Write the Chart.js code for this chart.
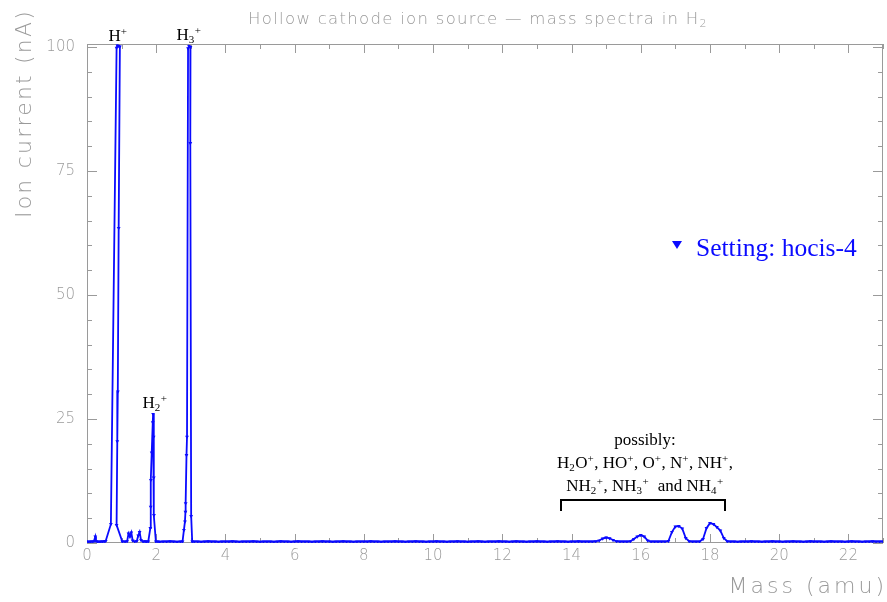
<!DOCTYPE html>
<html>
<head>
<meta charset="utf-8">
<script src="https://cdn.jsdelivr.net/npm/chart.js@4.4.1/dist/chart.umd.min.js"></script>
<style>
html,body{margin:0;padding:0;background:#fff;}
canvas{display:block;}
</style>
</head>
<body>
<canvas id="c" width="887" height="602"></canvas>
<script>
// ---- data (mass in amu, ion current in nA) ----
const masses = [
  0.00,0.05,0.10,0.15,0.20,0.24,0.26,0.30,0.35,0.40,0.45,0.50,0.54,
  0.69,0.855,0.88,0.915,0.95,0.915,0.89,0.875,0.855,1.02,
  1.10,1.16,1.20,1.24,1.28,1.32,1.38,1.44,1.48,1.52,1.56,1.62,1.68,1.72,
  1.77,1.83,1.84,1.845,1.87,1.90,1.91,1.925,1.93,1.935,1.99,
  2.05,2.10,2.20,2.30,2.40,2.50,2.60,2.70,
  2.76,2.80,2.83,2.845,2.85,2.875,2.89,2.92,2.95,2.99,2.985,3.01,3.04,
  3.1,3.2,3.3,3.4,3.5,3.6,3.7,3.8,3.9,4.0,
  4.1,4.2,4.3,4.4,4.5,4.6,4.7,4.8,4.9,5.0,
  5.1,5.2,5.3,5.4,5.5,5.6,5.7,5.8,5.9,6.0,
  6.1,6.2,6.3,6.4,6.5,6.6,6.7,6.8,6.9,7.0,
  7.1,7.2,7.3,7.4,7.5,7.6,7.7,7.8,7.9,8.0,
  8.1,8.2,8.3,8.4,8.5,8.6,8.7,8.8,8.9,9.0,
  9.1,9.2,9.3,9.4,9.5,9.6,9.7,9.8,9.9,10.0,
  10.1,10.2,10.3,10.4,10.5,10.6,10.7,10.8,10.9,11.0,
  11.1,11.2,11.3,11.4,11.5,11.6,11.7,11.8,11.9,12.0,
  12.1,12.2,12.3,12.4,12.5,12.6,12.7,12.8,12.9,13.0,
  13.1,13.2,13.3,13.4,13.5,13.6,13.7,13.8,13.9,14.0,
  14.1,14.2,14.3,14.4,14.5,14.6,14.7,14.8,14.9,15.0,
  15.1,15.2,15.3,15.4,15.5,15.6,15.7,15.8,15.9,16.0,
  16.1,16.2,16.3,16.4,16.5,16.6,16.7,16.8,16.9,17.0,
  17.1,17.2,17.3,17.4,17.5,17.6,17.7,17.8,17.9,18.0,
  18.1,18.2,18.3,18.4,18.5,18.6,18.7,18.8,18.9,19.0,
  19.1,19.2,19.3,19.4,19.5,19.6,19.7,19.8,19.9,20.0,
  20.1,20.2,20.3,20.4,20.5,20.6,20.7,20.8,20.9,21.0,
  21.1,21.2,21.3,21.4,21.5,21.6,21.7,21.8,21.9,22.0,
  22.1,22.2,22.3,22.4,22.5,22.6,22.7,22.8,22.9,23.0
];
const currents = [
  0.3,0.25,0.3,0.3,0.35,1.3,0.4,0.3,0.25,0.3,0.3,0.35,0.4,
  3.8,99.8,100.3,100.2,100.1,63.5,30.5,20.5,3.6,0.3,
  0.3,0.35,1.9,1.3,2.1,0.5,0.3,0.4,1.5,2.2,0.6,0.3,0.35,0.3,
  0.3,3.0,7.3,12.7,18.2,24.3,26.0,21.4,13.2,5.6,0.3,
  0.3,0.25,0.3,0.3,0.35,0.3,0.25,0.3,
  0.3,2.6,4.3,6.3,8.0,17.7,21.4,99.7,100.2,100.0,80.6,5.4,0.3,
  0.3,0.3,0.25,0.3,0.35,0.3,0.3,0.25,0.3,0.3,
  0.3,0.35,0.3,0.25,0.3,0.3,0.3,0.35,0.3,0.25,
  0.3,0.3,0.3,0.25,0.3,0.35,0.3,0.3,0.25,0.3,
  0.35,0.3,0.3,0.3,0.25,0.3,0.3,0.35,0.3,0.3,
  0.25,0.3,0.3,0.35,0.3,0.3,0.25,0.3,0.3,0.3,
  0.3,0.35,0.3,0.3,0.25,0.3,0.3,0.3,0.35,0.3,
  0.3,0.25,0.3,0.3,0.35,0.3,0.3,0.25,0.3,0.3,
  0.35,0.3,0.3,0.25,0.3,0.3,0.35,0.3,0.3,0.25,
  0.3,0.3,0.35,0.3,0.25,0.3,0.3,0.3,0.35,0.3,
  0.3,0.25,0.3,0.35,0.3,0.3,0.25,0.3,0.3,0.35,
  0.3,0.3,0.25,0.3,0.3,0.35,0.3,0.3,0.25,0.3,
  0.3,0.35,0.3,0.3,0.3,0.3,0.35,0.5,0.9,1.1,
  0.95,0.6,0.35,0.3,0.3,0.3,0.35,0.8,1.3,1.6,
  1.3,0.5,0.3,0.3,0.3,0.3,0.3,0.4,2.2,3.3,
  3.4,2.9,1.0,0.35,0.3,0.3,0.3,0.8,3.0,4.0,
  3.8,3.2,2.5,1.0,0.35,0.3,0.3,0.25,0.3,0.3,
  0.3,0.35,0.3,0.3,0.25,0.3,0.3,0.35,0.3,0.3,
  0.25,0.3,0.3,0.35,0.3,0.3,0.25,0.3,0.35,0.3,
  0.3,0.3,0.25,0.3,0.35,0.3,0.3,0.3,0.25,0.3,
  0.35,0.3,0.3,0.25,0.3,0.3,0.35,0.3,0.3,0.3
];
const xTickLabels = [0,2,4,6,8,10,12,14,16,18,20,22];
const yTickLabels = [0,25,50,75,100];
const seriesName = 'Setting: hocis-4';
const chartTitle = 'Hollow cathode ion source \u2014 mass spectra in H';
const xTitle = 'Mass (amu)';
const yTitle = 'Ion current (nA)';
const noteLines = [
  [{t:'possibly:'}],
  [{t:'H'},{sub:'2'},{t:'O'},{sup:'+'},{t:', HO'},{sup:'+'},{t:', O'},{sup:'+'},{t:', N'},{sup:'+'},{t:', NH'},{sup:'+'},{t:','}],
  [{t:'NH'},{sub:'2'},{sup:'+'},{t:', NH'},{sub:'3'},{sup:'+'},{t:'  and NH'},{sub:'4'},{sup:'+'}]
];

const BLUE = '#0a0aff';
const GRAY = '#9a9a9a';
const THINFAM = '"DejaVu Sans", sans-serif';
const SERIF = '"Liberation Serif", "Times New Roman", serif';

function runFont(ctx, r, size){
  ctx.font = (r.t !== undefined ? size : Math.round(size*0.62)) + 'px ' + SERIF;
  return r.t !== undefined ? r.t : (r.sub !== undefined ? r.sub : r.sup);
}
function runsWidth(ctx, runs, size){
  let w = 0;
  for (const r of runs){ const s = runFont(ctx, r, size); w += ctx.measureText(s).width + (r.t !== undefined ? 0 : 0.5); }
  return w;
}
function drawRuns(ctx, runs, cx, baseline, size, color){
  const total = runsWidth(ctx, runs, size);
  let x = cx - total/2;
  ctx.fillStyle = color; ctx.textAlign = 'left'; ctx.textBaseline = 'alphabetic';
  for (const r of runs){
    const s = runFont(ctx, r, size);
    let dy = 0;
    if (r.sub !== undefined) dy = size*0.2;
    if (r.sup !== undefined) dy = -size*0.36;
    ctx.fillText(s, x, baseline + dy);
    x += ctx.measureText(s).width + (r.t !== undefined ? 0 : 0.5);
  }
}

const decor = {
  id: 'decor',
  beforeDatasetsDraw(chart){
    const {ctx, chartArea:a, scales:{x, y}} = chart;
    ctx.save();
    ctx.strokeStyle = GRAY; ctx.lineWidth = 1;
    ctx.strokeRect(a.left+0.5, a.top+0.5, a.right-a.left-1, a.bottom-a.top-1);
    ctx.beginPath();
    for (let v = 0; v <= 23; v++){
      const px = Math.round(x.getPixelForValue(v)) + 0.5;
      const len = (v % 2 === 0) ? 9 : 5;
      ctx.moveTo(px, a.bottom); ctx.lineTo(px, a.bottom - len);
      ctx.moveTo(px, a.top); ctx.lineTo(px, a.top + len);
    }
    for (let v = 0; v <= 100; v += 5){
      const py = Math.round(y.getPixelForValue(v)) + 0.5;
      const len = (v % 25 === 0) ? 10 : 5;
      ctx.moveTo(a.left, py); ctx.lineTo(a.left + len, py);
      ctx.moveTo(a.right, py); ctx.lineTo(a.right - len, py);
    }
    ctx.stroke();
    ctx.restore();
  },
  afterDraw(chart){
    const {ctx, chartArea:a, scales:{x, y}} = chart;
    ctx.save();
    // tick labels
    ctx.fillStyle = GRAY; ctx.font = '200 15px ' + THINFAM;
    ctx.textAlign = 'center'; ctx.textBaseline = 'top';
    for (const v of xTickLabels) ctx.fillText(String(v), x.getPixelForValue(v), a.bottom + 6);
    ctx.textAlign = 'right'; ctx.textBaseline = 'middle';
    for (const v of yTickLabels) ctx.fillText(String(v), a.left - 12, y.getPixelForValue(v));
    // axis titles
    ctx.font = '200 22px ' + THINFAM;
    ctx.letterSpacing = '3px';
    ctx.textAlign = 'right'; ctx.textBaseline = 'alphabetic';
    ctx.fillText(xTitle, 887, 593);
    ctx.save();
    ctx.letterSpacing = '2.2px';
    ctx.translate(31, 9); ctx.rotate(-Math.PI/2);
    ctx.textAlign = 'right'; ctx.textBaseline = 'alphabetic';
    ctx.fillText(yTitle, 0, 0);
    ctx.restore();
    // title
    ctx.letterSpacing = '1.3px';
    ctx.font = '200 16.5px ' + THINFAM;
    const tw = ctx.measureText(chartTitle).width;
    ctx.font = '200 11px ' + THINFAM;
    const sw = ctx.measureText('2').width;
    const tx = 478 - (tw + sw)/2;
    ctx.textAlign = 'left';
    ctx.font = '200 16.5px ' + THINFAM;
    ctx.fillText(chartTitle, tx, 24);
    ctx.font = '200 11px ' + THINFAM;
    ctx.fillText('2', tx + tw, 27);
    ctx.letterSpacing = '0px';
    // peak labels
    drawRuns(ctx, [{t:'H'},{sup:'+'}], 118, 41, 17, '#000');
    drawRuns(ctx, [{t:'H'},{sub:'3'},{sup:'+'}], 189, 40, 17, '#000');
    drawRuns(ctx, [{t:'H'},{sub:'2'},{sup:'+'}], 155, 408, 17, '#000');
    // note
    drawRuns(ctx, noteLines[0], 645, 445, 17, '#000');
    drawRuns(ctx, noteLines[1], 645, 468, 17, '#000');
    drawRuns(ctx, noteLines[2], 645, 491, 17, '#000');
    // bracket
    ctx.strokeStyle = '#000'; ctx.lineWidth = 2;
    ctx.beginPath();
    ctx.moveTo(561, 511); ctx.lineTo(561, 500); ctx.lineTo(725, 500); ctx.lineTo(725, 511);
    ctx.stroke();
    // legend
    ctx.fillStyle = BLUE;
    ctx.beginPath();
    ctx.moveTo(672, 241); ctx.lineTo(682, 241); ctx.lineTo(677, 249); ctx.closePath(); ctx.fill();
    ctx.font = '25.5px ' + SERIF; ctx.textAlign = 'left'; ctx.textBaseline = 'alphabetic';
    ctx.fillText(seriesName, 696, 256);
    ctx.restore();
  }
};

new Chart(document.getElementById('c').getContext('2d'), {
  type: 'line',
  data: {
    datasets: [{
      label: seriesName,
      data: masses.map((m, i) => ({x: m, y: currents[i]})),
      borderColor: BLUE,
      borderWidth: 1.8,
      backgroundColor: BLUE,
      pointStyle: 'triangle',
      rotation: 180,
      pointRadius: 2.2,
      pointBorderWidth: 0,
      pointBackgroundColor: BLUE,
      tension: 0,
      fill: false
    }]
  },
  options: {
    responsive: false,
    animation: false,
    events: [],
    layout: {padding: {left: 87, right: 2, top: 44, bottom: 59}},
    scales: {
      x: {type: 'linear', min: 0, max: 23, display: false},
      y: {type: 'linear', min: 0, max: 100.6, display: false}
    },
    plugins: {legend: {display: false}, tooltip: {enabled: false}, title: {display: false}}
  },
  plugins: [decor]
});
</script>
</body>
</html>
